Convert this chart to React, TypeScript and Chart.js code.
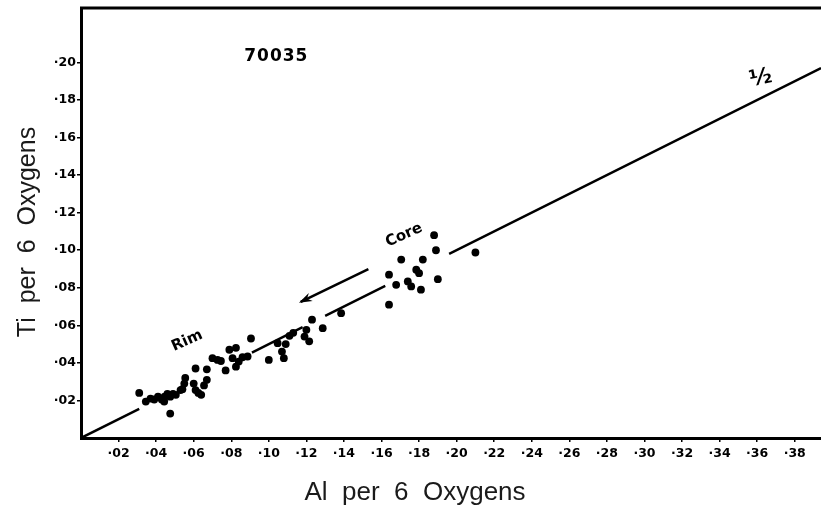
import React, { useEffect, useRef } from 'react';
import { Chart, registerables } from 'chart.js';

Chart.register(...registerables);

// Analysed points: Al and Ti per 6 oxygens (rim cluster then core cluster)
const alPer6O = [
  0.031, 0.0345, 0.037, 0.039, 0.041, 0.043, 0.0443, 0.0445, 0.046, 0.0475, 0.049, 0.0505, 0.0475,
  0.053, 0.054, 0.055, 0.0555, 0.060, 0.061, 0.0625, 0.064, 0.0655, 0.067, 0.061, 0.067,
  0.070, 0.0727, 0.0745, 0.077, 0.079, 0.0825, 0.0807, 0.0825, 0.084, 0.086, 0.0887, 0.0905,
  0.100, 0.1047, 0.107, 0.108, 0.109, 0.111, 0.113, 0.120, 0.119, 0.1215, 0.123, 0.1287, 0.1385,
  0.188, 0.189, 0.1705, 0.182, 0.1785, 0.180, 0.164, 0.1678, 0.174, 0.1758, 0.181, 0.190, 0.164, 0.210,
];
const tiPer6O = [
  0.024, 0.0194, 0.021, 0.0205, 0.022, 0.0205, 0.0194, 0.022, 0.0235, 0.022, 0.0235, 0.023, 0.013,
  0.0255, 0.026, 0.029, 0.032, 0.029, 0.0255, 0.024, 0.023, 0.028, 0.031, 0.037, 0.0366,
  0.0425, 0.0416, 0.041, 0.036, 0.047, 0.048, 0.0425, 0.038, 0.0407, 0.043, 0.0434, 0.053,
  0.0416, 0.0505, 0.046, 0.0425, 0.050, 0.0544, 0.056, 0.0576, 0.054, 0.0515, 0.063, 0.0585, 0.0665,
  0.108, 0.100, 0.095, 0.095, 0.0896, 0.0878, 0.087, 0.0816, 0.0834, 0.0807, 0.079, 0.0846, 0.071, 0.0988,
];

// The "1/2" reference line, drawn in broken segments
const halfLineStartAl = [0, 0.091, 0.130, 0.196];
const halfLineEndAl = [0.031, 0.118, 0.162, 0.394];
const halfLineStartTi = [0, 0.0455, 0.065, 0.098];
const halfLineEndTi = [0.0155, 0.059, 0.081, 0.197];

// Core -> Rim arrow
const arrowAl = [0.153, 0.117];
const arrowTi = [0.090, 0.0725];

// Tick labels
const xTickValues = [0.02, 0.04, 0.06, 0.08, 0.10, 0.12, 0.14, 0.16, 0.18, 0.20, 0.22, 0.24, 0.26, 0.28, 0.30, 0.32, 0.34, 0.36, 0.38];
const yTickValues = [0.02, 0.04, 0.06, 0.08, 0.10, 0.12, 0.14, 0.16, 0.18, 0.20];

// Text annotations (placed in data coordinates)
const noteTexts = ['70035', 'Core', 'Rim', '½'];
const noteAl = [0.104, 0.172, 0.0565, 0.362];
const noteTi = [0.203, 0.108, 0.0517, 0.1915];

const xTitle = 'Al  per  6  Oxygens';
const yTitle = 'Ti  per  6  Oxygens';

const fmtTick = (v: number) => '·' + String(Math.round(v * 100)).padStart(2, '0');

const annotPlugin = {
  id: 'annot',
  afterDatasetsDraw(chart: any) {
    const { ctx, chartArea, scales } = chart;
    const xs = scales.x;
    const ys = scales.y;
    ctx.save();
    // top frame line
    ctx.strokeStyle = '#000';
    ctx.lineWidth = 3;
    ctx.beginPath();
    ctx.moveTo(chartArea.left - 1, chartArea.top);
    ctx.lineTo(chart.width, chartArea.top);
    ctx.stroke();

    // arrow head
    const x0 = xs.getPixelForValue(arrowAl[0]);
    const y0 = ys.getPixelForValue(arrowTi[0]);
    const x1 = xs.getPixelForValue(arrowAl[1]);
    const y1 = ys.getPixelForValue(arrowTi[1]);
    const ang = Math.atan2(y1 - y0, x1 - x0);
    const len = 12;
    const spread = 0.38;
    ctx.fillStyle = '#000';
    ctx.beginPath();
    ctx.moveTo(x1 + 2 * Math.cos(ang), y1 + 2 * Math.sin(ang));
    ctx.lineTo(x1 - len * Math.cos(ang - spread), y1 - len * Math.sin(ang - spread));
    ctx.lineTo(x1 - 7 * Math.cos(ang), y1 - 7 * Math.sin(ang));
    ctx.lineTo(x1 - len * Math.cos(ang + spread), y1 - len * Math.sin(ang + spread));
    ctx.closePath();
    ctx.fill();

    // notes
    const fonts = [
      'bold 17px "DejaVu Sans", sans-serif',
      'bold 15px "DejaVu Sans", sans-serif',
      'bold 15px "DejaVu Sans", sans-serif',
      'bold 22px "DejaVu Sans", sans-serif',
    ];
    const rots = [0, -0.42, -0.42, -0.2];
    const spacing = ['1px', '0px', '0px', '0px'];
    noteTexts.forEach((t, i) => {
      const px = xs.getPixelForValue(noteAl[i]);
      const py = ys.getPixelForValue(noteTi[i]);
      ctx.save();
      ctx.translate(px, py);
      ctx.rotate(rots[i]);
      ctx.font = fonts[i];
      (ctx as any).letterSpacing = spacing[i];
      ctx.textAlign = 'center';
      ctx.textBaseline = 'middle';
      ctx.fillStyle = '#000';
      ctx.fillText(t, 0, 0);
      ctx.restore();
    });
    ctx.restore();
  },
  afterDraw(chart: any) {
    const { ctx } = chart;
    ctx.save();
    ctx.fillStyle = '#1a1a1a';
    ctx.font = '26px "Liberation Sans", Arial, sans-serif';
    ctx.textAlign = 'center';
    ctx.textBaseline = 'alphabetic';
    ctx.fillText(xTitle, 415, 500);
    ctx.translate(35, 232);
    ctx.rotate(-Math.PI / 2);
    ctx.font = '25px "Liberation Sans", Arial, sans-serif';
    ctx.fillText(yTitle, 0, 0);
    ctx.restore();
  },
};

export default function App() {
  const ref = useRef<HTMLCanvasElement | null>(null);
  useEffect(() => {
    if (!ref.current) return;
    const points = alPer6O.map((x, i) => ({ x, y: tiPer6O[i] }));
    const lineData: any[] = [];
    halfLineStartAl.forEach((sx, i) => {
      if (i > 0) lineData.push({ x: (halfLineEndAl[i - 1] + sx) / 2, y: null });
      lineData.push({ x: sx, y: halfLineStartTi[i] });
      lineData.push({ x: halfLineEndAl[i], y: halfLineEndTi[i] });
    });
    const arrowData = arrowAl.map((x, i) => ({ x, y: arrowTi[i] }));
    const tickFont = { family: '"DejaVu Sans", sans-serif', size: 12.5, weight: 'bold' as const };
    const chart = new Chart(ref.current, {
      type: 'scatter',
      data: {
        datasets: [
          {
            type: 'line',
            data: lineData,
            borderColor: '#000',
            borderWidth: 2.5,
            pointRadius: 0,
            spanGaps: false,
            fill: false,
          } as any,
          {
            type: 'line',
            data: arrowData,
            borderColor: '#000',
            borderWidth: 2.5,
            pointRadius: 0,
            fill: false,
          } as any,
          {
            data: points,
            backgroundColor: '#000',
            borderWidth: 0,
            pointRadius: 3.9,
          },
        ],
      },
      options: {
        responsive: false,
        animation: false,
        layout: { padding: { top: 8, left: 0, right: 0, bottom: 0 } },
        plugins: { legend: { display: false }, tooltip: { enabled: false } },
        scales: {
          x: {
            type: 'linear',
            min: 0,
            max: 0.394,
            afterBuildTicks: (s: any) => {
              s.ticks = xTickValues.map((v) => ({ value: v }));
            },
            afterFit: (s: any) => {
              s.height = 74;
              s.paddingLeft = 0;
              s.paddingRight = 0;
            },
            ticks: {
              callback: (v: any) => fmtTick(Number(v)),
              color: '#000',
              font: tickFont,
              padding: 4,
              maxRotation: 0,
              autoSkip: false,
            },
            grid: { drawOnChartArea: false, drawTicks: true, tickLength: 4, color: '#000', lineWidth: 1.5 },
            border: { display: true, color: '#000', width: 3 },
          },
          y: {
            type: 'linear',
            min: 0,
            max: 0.229,
            afterBuildTicks: (s: any) => {
              s.ticks = yTickValues.map((v) => ({ value: v }));
            },
            afterFit: (s: any) => {
              s.width = 81;
              s.paddingTop = 0;
              s.paddingBottom = 0;
            },
            ticks: {
              callback: (v: any) => fmtTick(Number(v)),
              color: '#000',
              font: tickFont,
              padding: 1,
              autoSkip: false,
            },
            grid: { drawOnChartArea: false, drawTicks: true, tickLength: 4, color: '#000', lineWidth: 1.5 },
            border: { display: true, color: '#000', width: 3 },
          },
        },
      },
      plugins: [annotPlugin],
    });
    return () => chart.destroy();
  }, []);
  return (
    <div style={{ position: 'absolute', left: 0, top: 0, width: 821, height: 512, overflow: 'hidden', background: '#fff' }}>
      <canvas ref={ref} width={825} height={512} />
    </div>
  );
}
